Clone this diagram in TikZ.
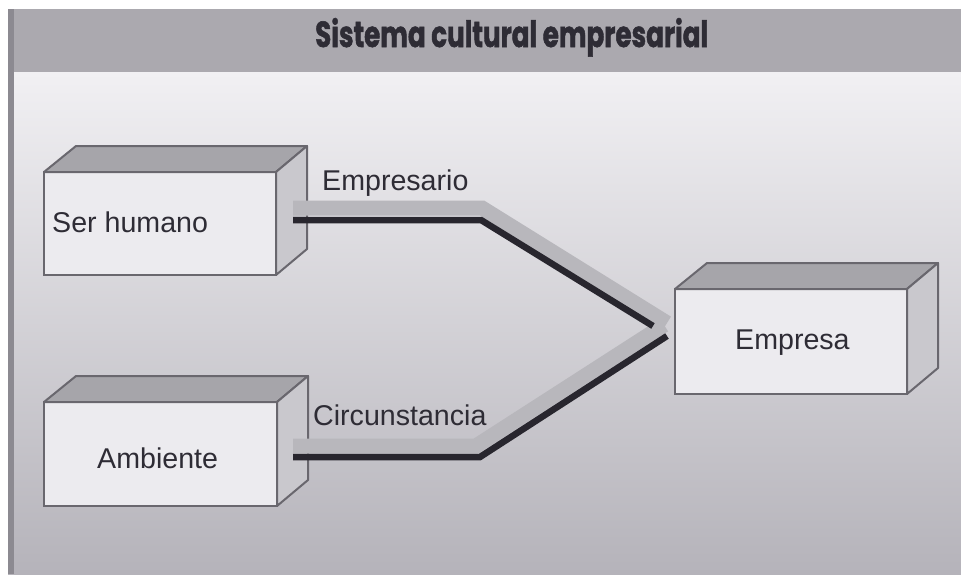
\documentclass[tikz,border=0pt]{standalone}
\usepackage{graphicx}
\usepackage{fontspec}
\setmainfont{Liberation Sans}
\newfontfamily\titlefont{Poppins}[BoldFeatures={FakeBold=1.6}]
\usetikzlibrary{calc}
\definecolor{bandgray}{HTML}{ABA9AF}
\definecolor{edgegray}{HTML}{8C8A91}
\definecolor{strokegray}{HTML}{69676E}
\definecolor{topgray}{HTML}{A6A5AA}
\definecolor{sidegray}{HTML}{C9C8CD}
\definecolor{frontgray}{HTML}{ECEBEF}
\definecolor{paneltop}{HTML}{F1F0F3}
\definecolor{panelmid}{HTML}{DCDBE0}
\definecolor{panelbot}{HTML}{B5B3BA}
\definecolor{inkdark}{HTML}{2E2C35}
\definecolor{connlight}{HTML}{B8B7BC}
\definecolor{conndark}{HTML}{28262E}
\tikzset{
  frontface/.style={draw=strokegray, fill=frontgray, line width=2pt, inner sep=0pt, outer sep=0pt, rectangle},
  topface/.style={draw=strokegray, fill=topgray, line width=2pt, line join=round},
  sideface/.style={draw=strokegray, fill=sidegray, line width=2pt, line join=round},
  boxlabel/.style={font=\fontsize{28.6}{30}\selectfont, text=inkdark, inner sep=0pt, anchor=base west},
  grayband/.style={draw=connlight, line width=15pt, line join=miter},
  darkline/.style={draw=conndark, line width=6.5pt, line join=miter},
}
\begin{document}
\begin{tikzpicture}[x=1pt,y=-1pt]
\useasboundingbox (0,0) rectangle (961,574);
\fill[white] (0,0) rectangle (961,574);
% panel
\shade[top color=paneltop, middle color=panelmid, bottom color=panelbot] (8,72) rectangle (961,574);
\fill[bandgray] (8,9) rectangle (961,72);
\fill[edgegray] (8,9) rectangle (14,574);
\node[inner sep=0pt, anchor=base west, text=inkdark] (title) at (315,47)
  {\resizebox{393pt}{29pt}{\titlefont\bfseries Sistema cultural empresarial}};

% boxes
\node[frontface, minimum width=232pt, minimum height=103pt] (sh) at (160,223.5) {};
\node[frontface, minimum width=233pt, minimum height=104pt] (amb) at (160.5,454) {};
\node[frontface, minimum width=232pt, minimum height=105pt] (emp) at (791,341.5) {};
\foreach \b in {sh,amb,emp}{
  \draw[topface] (\b.north west) -- ++(32,-26) -- ($(\b.north east)+(31,-26)$) -- (\b.north east) -- cycle;
  \draw[sideface] (\b.north east) -- ++(31,-26) -- ($(\b.south east)+(31,-26)$) -- (\b.south east) -- cycle;
}
\node[boxlabel] (shl) at (52,232) {Ser humano};
\node[boxlabel] (ambl) at (97,468) {Ambiente};
\node[boxlabel] (empl) at (735,349) {Empresa};

% connectors
\coordinate (u0) at (293,208); \coordinate (u1) at (482,208); \coordinate (ut) at (667,323);
\coordinate (d0) at (293,220); \coordinate (d1) at (481,220); \coordinate (de) at (653,326);
\coordinate (l0) at (293,446); \coordinate (l1) at (476,446); \coordinate (lt) at (664,325);
\coordinate (k0) at (293,457); \coordinate (k1) at (480,457); \coordinate (ke) at (667,336);
\draw[grayband] (u0) -- (u1) -- (ut);
\draw[grayband] (l0) -- (l1) -- (lt);
\draw[darkline] (d0) -- (d1) -- (de);
\draw[darkline] (k0) -- (k1) -- (ke);
\node[boxlabel] (emprl) at (322,190) {Empresario};
\node[boxlabel] (circl) at (313,425) {Circunstancia};
\end{tikzpicture}
\end{document}
